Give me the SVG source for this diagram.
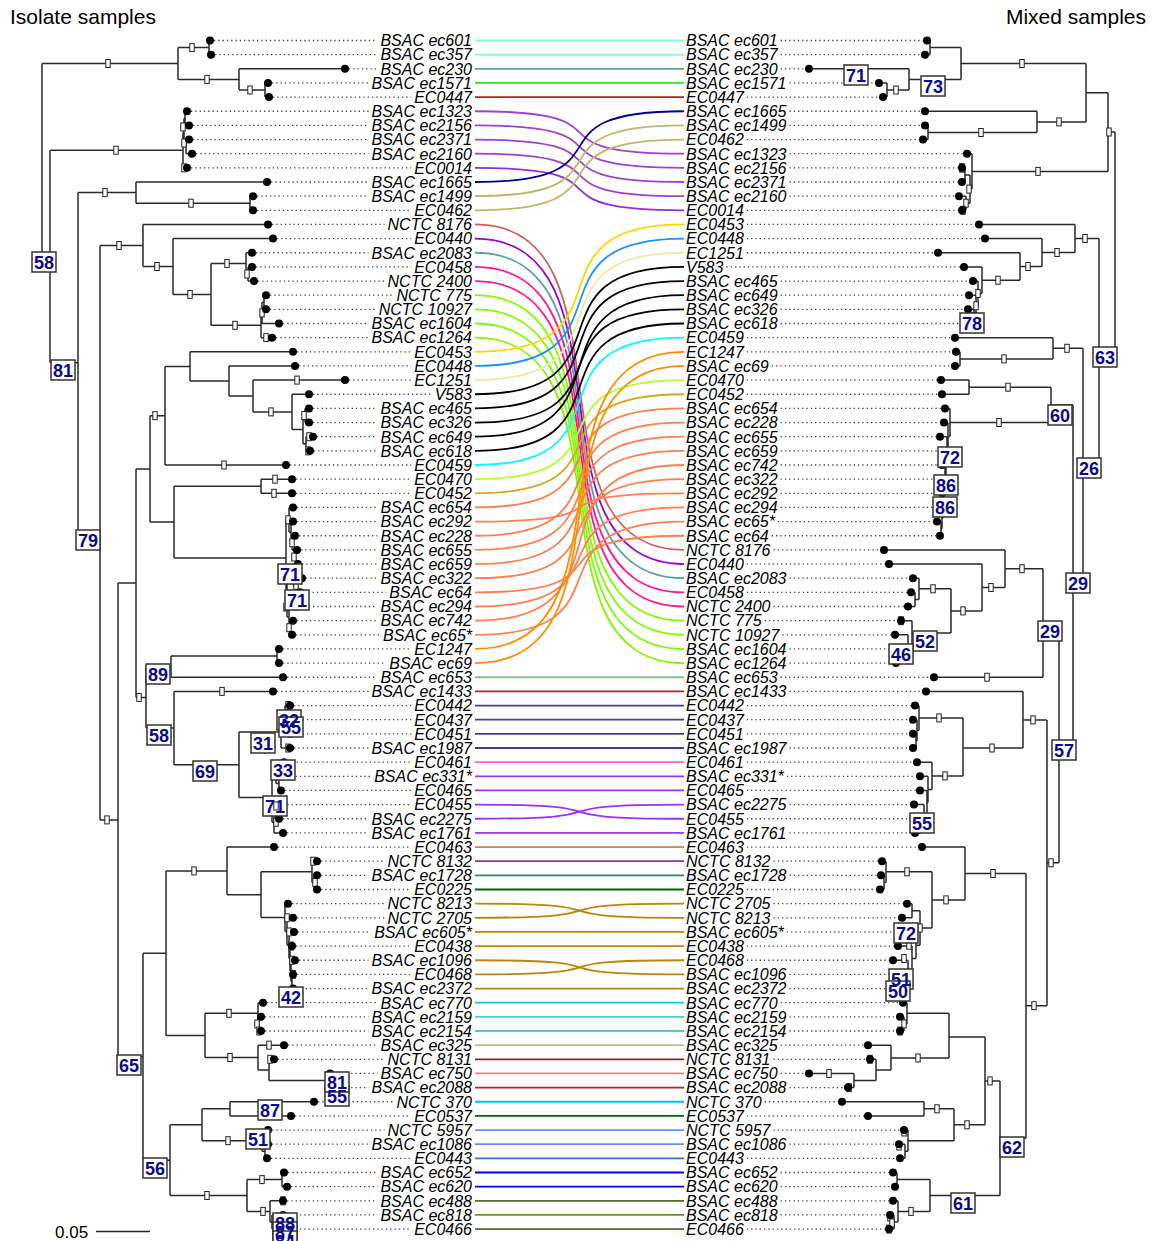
<svg xmlns="http://www.w3.org/2000/svg" xmlns:xlink="http://www.w3.org/1999/xlink" width="1154" height="1241" viewBox="0 0 1154 1241">
<style>
.ttl{font-family:"Liberation Sans",Arial,sans-serif;font-size:21px;fill:#000}
.tl,.tr{font-family:"Liberation Sans",Arial,sans-serif;font-size:16px;font-style:italic;fill:#000}
.tl{text-anchor:end}
.br{fill:none;stroke:#2a2a2a;stroke-width:1.5}
.dt{fill:none;stroke:#444;stroke-width:1.3;stroke-dasharray:1.3 3}
.bx rect{fill:#fff;stroke:#333;stroke-width:1.5}
.bt text{font-family:"Liberation Sans",Arial,sans-serif;font-weight:bold;font-size:18px;fill:#0a0a8c;text-anchor:middle}
.cn path{fill:none;stroke-width:1.8}
</style>
<defs>
<rect id="nm" x="-2.2" y="-4" width="4.4" height="8" fill="#fff" stroke="#222" stroke-width="1"/>
</defs>
<rect width="1154" height="1241" fill="#fff"/>
<text class="ttl" x="10" y="24">Isolate samples</text>
<text class="ttl" x="1146" y="24" text-anchor="end">Mixed samples</text>

<g id="connectors" class="cn">
<path stroke="#7fffd4" d="M475 40.5H684"/>
<path stroke="#7fffd4" d="M475 54.65H684"/>
<path stroke="#5f9ea0" d="M475 68.8H684"/>
<path stroke="#32e032" d="M475 82.95H684"/>
<path stroke="#b22222" d="M475 97.1H684"/>
<path stroke="#a040d0" d="M475 111.25C640 111.25 519 153.7 684 153.7"/>
<path stroke="#a040d0" d="M475 125.4C640 125.4 519 167.85 684 167.85"/>
<path stroke="#a040d0" d="M475 139.55C640 139.55 519 182 684 182"/>
<path stroke="#a040d0" d="M475 153.7C640 153.7 519 196.15 684 196.15"/>
<path stroke="#9030d8" d="M475 167.85C640 167.85 519 210.3 684 210.3"/>
<path stroke="#00008b" d="M475 182C640 182 519 111.25 684 111.25"/>
<path stroke="#bdb76b" d="M475 196.15C640 196.15 519 125.4 684 125.4"/>
<path stroke="#bdb76b" d="M475 210.3C640 210.3 519 139.55 684 139.55"/>
<path stroke="#cd5c5c" d="M475 224.45C640 224.45 519 549.9 684 549.9"/>
<path stroke="#9400d3" d="M475 238.6C640 238.6 519 564.05 684 564.05"/>
<path stroke="#5f9ea0" d="M475 252.75C640 252.75 519 578.2 684 578.2"/>
<path stroke="#ff1493" d="M475 266.9C640 266.9 519 592.35 684 592.35"/>
<path stroke="#ff1493" d="M475 281.05C640 281.05 519 606.5 684 606.5"/>
<path stroke="#7cfc00" d="M475 295.2C640 295.2 519 620.65 684 620.65"/>
<path stroke="#7cfc00" d="M475 309.35C640 309.35 519 634.8 684 634.8"/>
<path stroke="#7cfc00" d="M475 323.5C640 323.5 519 648.95 684 648.95"/>
<path stroke="#8ef000" d="M475 337.65C640 337.65 519 663.1 684 663.1"/>
<path stroke="#ffd700" d="M475 351.8C640 351.8 519 224.45 684 224.45"/>
<path stroke="#1e90ff" d="M475 365.95C640 365.95 519 238.6 684 238.6"/>
<path stroke="#eee8aa" d="M475 380.1C640 380.1 519 252.75 684 252.75"/>
<path stroke="#000" d="M475 394.25C640 394.25 519 266.9 684 266.9"/>
<path stroke="#000" d="M475 408.4C640 408.4 519 281.05 684 281.05"/>
<path stroke="#000" d="M475 422.55C640 422.55 519 309.35 684 309.35"/>
<path stroke="#000" d="M475 436.7C640 436.7 519 295.2 684 295.2"/>
<path stroke="#000" d="M475 450.85C640 450.85 519 323.5 684 323.5"/>
<path stroke="#00ffff" d="M475 465C640 465 519 337.65 684 337.65"/>
<path stroke="#adff2f" d="M475 479.15C640 479.15 519 380.1 684 380.1"/>
<path stroke="#daa520" d="M475 493.3C640 493.3 519 394.25 684 394.25"/>
<path stroke="#ff7f50" d="M475 507.45C640 507.45 519 408.4 684 408.4"/>
<path stroke="#ff7f50" d="M475 521.6C640 521.6 519 493.3 684 493.3"/>
<path stroke="#ff7f50" d="M475 535.75C640 535.75 519 422.55 684 422.55"/>
<path stroke="#ff7f50" d="M475 549.9C640 549.9 519 436.7 684 436.7"/>
<path stroke="#ff7f50" d="M475 564.05C640 564.05 519 450.85 684 450.85"/>
<path stroke="#ff7f50" d="M475 578.2C640 578.2 519 479.15 684 479.15"/>
<path stroke="#ff7f50" d="M475 592.35C640 592.35 519 535.75 684 535.75"/>
<path stroke="#ff7f50" d="M475 606.5C640 606.5 519 507.45 684 507.45"/>
<path stroke="#ff7f50" d="M475 620.65C640 620.65 519 465 684 465"/>
<path stroke="#ff7f50" d="M475 634.8C640 634.8 519 521.6 684 521.6"/>
<path stroke="#ff8c00" d="M475 648.95C640 648.95 519 351.8 684 351.8"/>
<path stroke="#ff8c00" d="M475 663.1C640 663.1 519 365.95 684 365.95"/>
<path stroke="#8fbc8f" d="M475 677.25H684"/>
<path stroke="#a52a2a" d="M475 691.4H684"/>
<path stroke="#483d8b" d="M475 705.55H684"/>
<path stroke="#483d8b" d="M475 719.7H684"/>
<path stroke="#483d8b" d="M475 733.85H684"/>
<path stroke="#483d8b" d="M475 748H684"/>
<path stroke="#ff69b4" d="M475 762.15H684"/>
<path stroke="#9b30ff" d="M475 776.3H684"/>
<path stroke="#9b30ff" d="M475 790.45H684"/>
<path stroke="#9b30ff" d="M475 804.6C640 804.6 519 818.75 684 818.75"/>
<path stroke="#9b30ff" d="M475 818.75C640 818.75 519 804.6 684 804.6"/>
<path stroke="#9b30ff" d="M475 832.9H684"/>
<path stroke="#cd853f" d="M475 847.05H684"/>
<path stroke="#8b3a8b" d="M475 861.2H684"/>
<path stroke="#2e8b57" d="M475 875.35H684"/>
<path stroke="#006400" d="M475 889.5H684"/>
<path stroke="#b8860b" d="M475 903.65C640 903.65 519 917.8 684 917.8"/>
<path stroke="#b8860b" d="M475 917.8C640 917.8 519 903.65 684 903.65"/>
<path stroke="#b8860b" d="M475 931.95H684"/>
<path stroke="#b8860b" d="M475 946.1H684"/>
<path stroke="#b8860b" d="M475 960.25C640 960.25 519 974.4 684 974.4"/>
<path stroke="#b8860b" d="M475 974.4C640 974.4 519 960.25 684 960.25"/>
<path stroke="#b8860b" d="M475 988.55H684"/>
<path stroke="#00ced1" d="M475 1002.7H684"/>
<path stroke="#48d1cc" d="M475 1016.85H684"/>
<path stroke="#48d1cc" d="M475 1031H684"/>
<path stroke="#d2b48c" d="M475 1045.15H684"/>
<path stroke="#8b2323" d="M475 1059.3H684"/>
<path stroke="#f08080" d="M475 1073.45H684"/>
<path stroke="#b22222" d="M475 1087.6H684"/>
<path stroke="#00bfff" d="M475 1101.75H684"/>
<path stroke="#006400" d="M475 1115.9H684"/>
<path stroke="#6495ed" d="M475 1130.05H684"/>
<path stroke="#6495ed" d="M475 1144.2H684"/>
<path stroke="#4169e1" d="M475 1158.35H684"/>
<path stroke="#0000ee" d="M475 1172.5H684"/>
<path stroke="#0000ee" d="M475 1186.65H684"/>
<path stroke="#556b2f" d="M475 1200.8H684"/>
<path stroke="#6b8e23" d="M475 1214.95H684"/>
<path stroke="#556b2f" d="M475 1229.1H684"/>
</g>

<g id="left-tree">
<path class="br" d="M42 63.5V256.4M42 63.5H178M42 256.4H50M178 47.6V79.4M178 47.6H209M178 79.4H239M209 40.5V54.65M209 40.5H210M209 54.65H211M239 68.8V90M239 68.8H345M239 90H265M265 82.95V97.1M265 82.95H268M265 97.1H269M50 150.2V362.7M50 150.2H183M50 362.7H78M183 132.5V167.85M183 132.5H184M183 167.85H187M184 118.3V146.6M184 118.3H185M184 146.6H186M185 111.25V125.4M185 111.25H187M185 125.4H189M186 139.55V153.7M186 139.55H189M186 153.7H192M78 192.6V532.7M78 192.6H136M78 532.7H100M136 182V203.2M136 182H267M136 203.2H250M250 196.15V210.3M250 196.15H253M250 210.3H253M100 245.5V819.9M100 245.5H143M100 819.9H118M143 224.45V266.5M143 224.45H268M143 266.5H173M173 238.6V294.4M173 238.6H273M173 294.4H211M211 263.4V325.3M211 263.4H246M211 325.3H261M246 252.75V274M246 252.75H252M246 274H248M248 266.9V281.05M248 266.9H252M248 281.05H254M261 312.9V337.65M261 312.9H262M261 337.65H272M262 302.3V323.5M262 302.3H264M262 323.5H279M264 295.2V309.35M264 295.2H266M264 309.35H266M118 583.1V1056.7M118 583.1H136M118 1056.7H143M136 468.9V697.4M136 468.9H150M136 697.4H146M150 415.7V522M150 415.7H165M150 522H174M165 366.4V465M165 366.4H190M165 465H286M190 351.8V381M190 351.8H293M190 381H229M229 365.95V396M229 365.95H295M229 396H253M253 380.1V411.9M253 380.1H345M253 411.9H292M292 394.25V429.6M292 394.25H309M292 429.6H303M303 415.5V443.8M303 415.5H305M303 443.8H306M305 408.4V422.55M305 408.4H309M305 422.55H309M306 436.7V450.85M306 436.7H313M306 450.85H310M174 486.2V557.9M174 486.2H261M174 557.9H286M261 479.15V493.3M261 479.15H292M261 493.3H292M286 519.8V595.9M286 519.8H289M286 595.9H287M289 507.45V532.2M289 507.45H293M289 532.2H291M291 521.6V542.8M291 521.6H293M291 542.8H292M292 535.75V549.9M292 535.75H295M292 549.9H297M287 574.7V617.1M287 574.7H293M287 617.1H289M293 564.05V585.3M293 564.05H298M293 585.3H296M296 578.2V592.35M296 578.2H302M296 592.35H300M289 606.5V627.7M289 606.5H296M289 627.7H290M290 620.65V634.8M290 620.65H293M290 634.8H292M146 666.6V728.1M146 666.6H171M146 728.1H174M171 656V677.25M171 656H277M171 677.25H283M277 648.95V663.1M277 648.95H279M277 663.1H279M174 691.4V764.8M174 691.4H273M174 764.8H239M239 732.1V797.5M239 732.1H281M239 797.5H272M281 716.2V748M281 716.2H285M281 748H290M285 705.55V726.8M285 705.55H290M285 726.8H287M287 719.7V733.85M287 719.7H290M287 733.85H290M272 772.8V822.3M272 772.8H276M272 822.3H274M276 762.15V783.4M276 762.15H284M276 783.4H279M279 776.3V790.45M279 776.3H283M279 790.45H281M274 811.7V832.9M274 811.7H276M274 832.9H283M276 804.6V818.75M276 804.6H279M276 818.75H279M143 953.2V1160.2M143 953.2H166M143 1160.2H170M166 870.9V1035.4M166 870.9H227M166 1035.4H205M227 847.05V894.7M227 847.05H274M227 894.7H261M261 871.8V917.6M261 871.8H312M261 917.6H285M312 861.2V882.4M312 861.2H317M312 882.4H314M314 875.35V889.5M314 875.35H317M314 889.5H317M285 903.65V931.5M285 903.65H288M285 931.5H287M287 917.8V945.2M287 917.8H293M287 945.2H289M289 931.95V958.5M289 931.95H294M289 958.5H290M290 946.1V970.9M290 946.1H292M290 970.9H291M291 960.25V981.5M291 960.25H295M291 981.5H292M292 974.4V988.55M292 974.4H293M292 988.55H293M205 1013.3V1057.5M205 1013.3H258M205 1057.5H258M258 1002.7V1023.9M258 1002.7H263M258 1023.9H259M259 1016.85V1031M259 1016.85H261M259 1031H261M258 1045.15V1069.9M258 1045.15H284M258 1069.9H269M269 1059.3V1080.5M269 1059.3H274M269 1080.5H327M327 1073.45V1087.6M327 1073.45H330M327 1087.6H330M170 1124.8V1195.5M170 1124.8H202M170 1195.5H247M202 1108.8V1140.7M202 1108.8H230M202 1140.7H262M230 1101.75V1115.9M230 1101.75H314M230 1115.9H291M262 1130.05V1151.3M262 1130.05H268M262 1151.3H265M265 1144.2V1158.35M265 1144.2H268M265 1158.35H267M247 1179.6V1211.4M247 1179.6H282M247 1211.4H270M282 1172.5V1186.65M282 1172.5H284M282 1186.65H287M270 1200.8V1222M270 1200.8H283M270 1222H272M272 1214.95V1229.1M272 1214.95H283M272 1229.1H283"/>
<g id="left-node-marks">
<use href="#nm" x="108" y="63.5"/><use href="#nm" x="192" y="47.6"/><use href="#nm" x="207" y="79.4"/><use href="#nm" x="250" y="90"/><use href="#nm" x="116" y="150.2"/><use href="#nm" x="183" y="127"/><use href="#nm" x="184" y="143"/><use href="#nm" x="184" y="167.85"/><use href="#nm" x="105" y="192.6"/><use href="#nm" x="191" y="203.2"/><use href="#nm" x="119" y="245.5"/><use href="#nm" x="157" y="266.5"/><use href="#nm" x="190" y="294.4"/><use href="#nm" x="227" y="263.4"/><use href="#nm" x="247" y="274"/><use href="#nm" x="235" y="325.3"/><use href="#nm" x="262" y="312.9"/><use href="#nm" x="266" y="337.65"/><use href="#nm" x="155" y="415.7"/><use href="#nm" x="297" y="380.1"/><use href="#nm" x="271" y="411.9"/><use href="#nm" x="304" y="415.5"/><use href="#nm" x="309" y="436.7"/><use href="#nm" x="308" y="450.85"/><use href="#nm" x="224" y="465"/><use href="#nm" x="275" y="479.15"/><use href="#nm" x="274" y="493.3"/><use href="#nm" x="288" y="519.8"/><use href="#nm" x="292" y="542.8"/><use href="#nm" x="294" y="557"/><use href="#nm" x="296" y="585.3"/><use href="#nm" x="286" y="607"/><use href="#nm" x="289" y="627.7"/><use href="#nm" x="139" y="697.4"/><use href="#nm" x="222" y="691.4"/><use href="#nm" x="288" y="705.55"/><use href="#nm" x="288" y="748"/><use href="#nm" x="276" y="822.3"/><use href="#nm" x="107" y="819.9"/><use href="#nm" x="194" y="870.9"/><use href="#nm" x="313" y="861.2"/><use href="#nm" x="315" y="882.4"/><use href="#nm" x="287" y="917.8"/><use href="#nm" x="289" y="931.95"/><use href="#nm" x="291" y="946.1"/><use href="#nm" x="292" y="960.25"/><use href="#nm" x="293" y="974.4"/><use href="#nm" x="229" y="1013.3"/><use href="#nm" x="257" y="1024"/><use href="#nm" x="259" y="1031"/><use href="#nm" x="230" y="1057.5"/><use href="#nm" x="269" y="1045.15"/><use href="#nm" x="270" y="1059.3"/><use href="#nm" x="228" y="1140.7"/><use href="#nm" x="207" y="1195.5"/><use href="#nm" x="262" y="1179.6"/><use href="#nm" x="263" y="1211.4"/><use href="#nm" x="283" y="1200.8"/>
</g>
</g>

<g id="right-tree">
<path class="br" d="M1115 132V349.9M1115 132H1108M1115 349.9H1099M1108 92.7V171.4M1108 92.7H1086M1108 171.4H972M1086 63.5V121.9M1086 63.5H961M1086 121.9H1037M961 47.6V79.4M961 47.6H930M961 79.4H909M930 40.5V54.65M930 40.5H927M930 54.65H925M909 68.8V90M909 68.8H809M909 90H887M887 82.95V97.1M887 82.95H879M887 97.1H883M1037 111.25V132.5M1037 111.25H925M1037 132.5H928M928 125.4V139.55M928 125.4H925M928 139.55H923M972 153.7V189.1M972 153.7H967M972 189.1H970M970 174.9V203.2M970 174.9H965M970 203.2H966M965 167.85V182M965 167.85H962M965 182H962M966 196.15V210.3M966 196.15H959M966 210.3H962M1099 238.5V461.2M1099 238.5H1075M1099 461.2H1083M1075 224.45V252.5M1075 224.45H979M1075 252.5H1042M1042 238.6V266.5M1042 238.6H985M1042 266.5H1020M1020 252.75V280.2M1020 252.75H938M1020 280.2H982M982 266.9V293.4M982 266.9H964M982 293.4H978M978 281.05V305.8M978 281.05H973M978 305.8H976M976 295.2V316.4M976 295.2H969M976 316.4H974M974 309.35V323.5M974 309.35H968M974 323.5H968M1083 348.3V574M1083 348.3H1053M1083 574H1073M1053 337.65V358.9M1053 337.65H955M1053 358.9H960M960 351.8V365.95M960 351.8H956M960 365.95H955M1073 404.9V743.1M1073 404.9H1051M1073 743.1H1059M1051 387.2V422.5M1051 387.2H969M1051 422.5H950M969 380.1V394.25M969 380.1H941M969 394.25H942M950 408.4V436.6M950 408.4H945M950 436.6H948M948 422.55V450.7M948 422.55H944M948 450.7H947M947 436.7V464.8M947 436.7H940M947 464.8H946M946 450.85V478.7M946 450.85H942M946 478.7H945M945 465V492.4M945 465H942M945 492.4H944M944 479.15V505.7M944 479.15H942M944 505.7H943M943 493.3V518.1M943 493.3H942M943 518.1H942M942 507.45V528.7M942 507.45H940M942 528.7H941M941 521.6V535.75M941 521.6H937M941 535.75H940M1059 623.3V862.8M1059 623.3H1043M1059 862.8H1047M1043 568.7V677.25M1043 568.7H1005M1043 677.25H934M1005 549.9V587.5M1005 549.9H884M1005 587.5H982M982 564.05V610.9M982 564.05H889M982 610.9H951M951 588.8V633M951 588.8H919M951 633H912M919 578.2V599.4M919 578.2H913M919 599.4H915M915 592.35V606.5M915 592.35H911M915 606.5H908M912 620.65V645.4M912 620.65H901M912 645.4H908M908 634.8V656M908 634.8H895M908 656H903M903 648.95V663.1M903 648.95H897M903 663.1H896M1047 719.9V1005.7M1047 719.9H1023M1047 1005.7H1026M1023 691.4V748M1023 691.4H926M1023 748H963M963 717.9V775.9M963 717.9H919M963 775.9H932M919 705.55V730.3M919 705.55H915M919 730.3H917M917 719.7V740.9M917 719.7H913M917 740.9H916M916 733.85V748M916 733.85H913M916 748H913M932 762.15V789.6M932 762.15H917M932 789.6H928M928 776.3V802.8M928 776.3H920M928 802.8H927M927 790.45V815.2M927 790.45H920M927 815.2H924M924 804.6V825.8M924 804.6H914M924 825.8H921M921 818.75V832.9M921 818.75H915M921 832.9H915M1026 873.5V1138.2M1026 873.5H965M1026 1138.2H1000M965 847.05V899.9M965 847.05H922M965 899.9H932M932 871.8V928M932 871.8H886M932 928H920M886 861.2V882.4M886 861.2H882M886 882.4H884M884 875.35V889.5M884 875.35H881M884 889.5H880M920 910.7V945.2M920 910.7H912M920 945.2H916M912 903.65V917.8M912 903.65H907M912 917.8H902M916 931.95V958.5M916 931.95H900M916 958.5H912M912 946.1V970.9M912 946.1H898M912 970.9H908M908 960.25V981.5M908 960.25H893M908 981.5H904M904 974.4V988.55M904 974.4H893M904 988.55H893M1000 1080.9V1195.5M1000 1080.9H985M1000 1195.5H930M985 1037V1124.8M985 1037H949M985 1124.8H954M949 1013.3V1058M949 1013.3H907M949 1058H891M907 1002.7V1023.9M907 1002.7H903M907 1023.9H904M904 1016.85V1031M904 1016.85H900M904 1031H900M891 1045.15V1069.9M891 1045.15H868M891 1069.9H876M876 1059.3V1080.5M876 1059.3H870M876 1080.5H854M854 1073.45V1087.6M854 1073.45H809M854 1087.6H848M954 1108.8V1140.7M954 1108.8H924M954 1140.7H908M924 1101.75V1115.9M924 1101.75H842M924 1115.9H868M908 1130.05V1151.3M908 1130.05H904M908 1151.3H905M905 1144.2V1158.35M905 1144.2H899M905 1158.35H900M930 1179.6V1211.4M930 1179.6H897M930 1211.4H898M897 1172.5V1186.65M897 1172.5H893M897 1186.65H895M898 1200.8V1222M898 1200.8H893M898 1222H894M894 1214.95V1229.1M894 1214.95H890M894 1229.1H889"/>
<g id="right-node-marks">
<use href="#nm" x="1022" y="63.5"/><use href="#nm" x="896" y="90"/><use href="#nm" x="1059" y="121.9"/><use href="#nm" x="981" y="132.5"/><use href="#nm" x="1038" y="171.4"/><use href="#nm" x="1109" y="132"/><use href="#nm" x="962" y="167.85"/><use href="#nm" x="969" y="189.1"/><use href="#nm" x="966" y="203.2"/><use href="#nm" x="963" y="210.3"/><use href="#nm" x="1085" y="238.5"/><use href="#nm" x="1057" y="252.5"/><use href="#nm" x="1028" y="266.5"/><use href="#nm" x="998" y="280.2"/><use href="#nm" x="978" y="293.4"/><use href="#nm" x="976" y="305.8"/><use href="#nm" x="974" y="316.4"/><use href="#nm" x="1067" y="348.3"/><use href="#nm" x="1004" y="358.9"/><use href="#nm" x="1008" y="387.2"/><use href="#nm" x="999" y="422.5"/><use href="#nm" x="1022" y="568.7"/><use href="#nm" x="991" y="587.5"/><use href="#nm" x="963" y="610.9"/><use href="#nm" x="933" y="588.8"/><use href="#nm" x="901" y="620.65"/><use href="#nm" x="987" y="677.25"/><use href="#nm" x="1033" y="719.9"/><use href="#nm" x="992" y="748"/><use href="#nm" x="939" y="717.9"/><use href="#nm" x="945" y="775.9"/><use href="#nm" x="1051" y="862.8"/><use href="#nm" x="1034" y="1005.7"/><use href="#nm" x="993" y="873.5"/><use href="#nm" x="946" y="899.9"/><use href="#nm" x="907" y="871.8"/><use href="#nm" x="920" y="928"/><use href="#nm" x="909" y="945.2"/><use href="#nm" x="904" y="958.5"/><use href="#nm" x="990" y="1080.9"/><use href="#nm" x="918" y="1058"/><use href="#nm" x="870" y="1059.3"/><use href="#nm" x="937" y="1108.8"/><use href="#nm" x="967" y="1124.8"/><use href="#nm" x="829" y="1073.45"/><use href="#nm" x="849" y="1087.6"/><use href="#nm" x="911" y="1211.4"/><use href="#nm" x="904" y="1023.9"/><use href="#nm" x="900" y="1031"/><use href="#nm" x="904" y="1132"/><use href="#nm" x="899" y="1146"/><use href="#nm" x="890" y="1217"/><use href="#nm" x="889" y="1229.1"/><use href="#nm" x="892" y="1223"/><use href="#nm" x="962" y="168"/>
</g>
</g>

<g id="left-leaves">
<g id="L01"><path class="dt" d="M214 40.5H377.4"/><circle cx="210" cy="40.5" r="4"/><text class="tl" x="472" y="46.3">BSAC ec601</text></g>
<g id="L02"><path class="dt" d="M215 54.65H377.4"/><circle cx="211" cy="54.65" r="4"/><text class="tl" x="472" y="60.45">BSAC ec357</text></g>
<g id="L03"><path class="dt" d="M349 68.8H377.4"/><circle cx="345" cy="68.8" r="4"/><text class="tl" x="472" y="74.6">BSAC ec230</text></g>
<g id="L04"><path class="dt" d="M272 82.95H368.5"/><circle cx="268" cy="82.95" r="4"/><text class="tl" x="472" y="88.75">BSAC ec1571</text></g>
<g id="L05"><path class="dt" d="M273 97.1H411.2"/><circle cx="269" cy="97.1" r="4"/><text class="tl" x="472" y="102.9">EC0447</text></g>
<g id="L06"><path class="dt" d="M191 111.25H368.5"/><circle cx="187" cy="111.25" r="4"/><text class="tl" x="472" y="117.05">BSAC ec1323</text></g>
<g id="L07"><path class="dt" d="M193 125.4H368.5"/><circle cx="189" cy="125.4" r="4"/><text class="tl" x="472" y="131.2">BSAC ec2156</text></g>
<g id="L08"><path class="dt" d="M193 139.55H368.5"/><circle cx="189" cy="139.55" r="4"/><text class="tl" x="472" y="145.35">BSAC ec2371</text></g>
<g id="L09"><path class="dt" d="M196 153.7H368.5"/><circle cx="192" cy="153.7" r="4"/><text class="tl" x="472" y="159.5">BSAC ec2160</text></g>
<g id="L10"><path class="dt" d="M191 167.85H411.2"/><circle cx="187" cy="167.85" r="4"/><text class="tl" x="472" y="173.65">EC0014</text></g>
<g id="L11"><path class="dt" d="M271 182H368.5"/><circle cx="267" cy="182" r="4"/><text class="tl" x="472" y="187.8">BSAC ec1665</text></g>
<g id="L12"><path class="dt" d="M257 196.15H368.5"/><circle cx="253" cy="196.15" r="4"/><text class="tl" x="472" y="201.95">BSAC ec1499</text></g>
<g id="L13"><path class="dt" d="M257 210.3H411.2"/><circle cx="253" cy="210.3" r="4"/><text class="tl" x="472" y="216.1">EC0462</text></g>
<g id="L14"><path class="dt" d="M272 224.45H384.5"/><circle cx="268" cy="224.45" r="4"/><text class="tl" x="472" y="230.25">NCTC 8176</text></g>
<g id="L15"><path class="dt" d="M277 238.6H411.2"/><circle cx="273" cy="238.6" r="4"/><text class="tl" x="472" y="244.4">EC0440</text></g>
<g id="L16"><path class="dt" d="M256 252.75H368.5"/><circle cx="252" cy="252.75" r="4"/><text class="tl" x="472" y="258.55">BSAC ec2083</text></g>
<g id="L17"><path class="dt" d="M256 266.9H411.2"/><circle cx="252" cy="266.9" r="4"/><text class="tl" x="472" y="272.7">EC0458</text></g>
<g id="L18"><path class="dt" d="M258 281.05H384.5"/><circle cx="254" cy="281.05" r="4"/><text class="tl" x="472" y="286.85">NCTC 2400</text></g>
<g id="L19"><path class="dt" d="M270 295.2H393.4"/><circle cx="266" cy="295.2" r="4"/><text class="tl" x="472" y="301">NCTC 775</text></g>
<g id="L20"><path class="dt" d="M270 309.35H375.6"/><circle cx="266" cy="309.35" r="4"/><text class="tl" x="472" y="315.15">NCTC 10927</text></g>
<g id="L21"><path class="dt" d="M283 323.5H368.5"/><circle cx="279" cy="323.5" r="4"/><text class="tl" x="472" y="329.3">BSAC ec1604</text></g>
<g id="L22"><path class="dt" d="M276 337.65H368.5"/><circle cx="272" cy="337.65" r="4"/><text class="tl" x="472" y="343.45">BSAC ec1264</text></g>
<g id="L23"><path class="dt" d="M297 351.8H411.2"/><circle cx="293" cy="351.8" r="4"/><text class="tl" x="472" y="357.6">EC0453</text></g>
<g id="L24"><path class="dt" d="M299 365.95H411.2"/><circle cx="295" cy="365.95" r="4"/><text class="tl" x="472" y="371.75">EC0448</text></g>
<g id="L25"><path class="dt" d="M349 380.1H411.2"/><circle cx="345" cy="380.1" r="4"/><text class="tl" x="472" y="385.9">EC1251</text></g>
<g id="L26"><path class="dt" d="M313 394.25H431.6"/><circle cx="309" cy="394.25" r="4"/><text class="tl" x="472" y="400.05">V583</text></g>
<g id="L27"><path class="dt" d="M313 408.4H377.4"/><circle cx="309" cy="408.4" r="4"/><text class="tl" x="472" y="414.2">BSAC ec465</text></g>
<g id="L28"><path class="dt" d="M313 422.55H377.4"/><circle cx="309" cy="422.55" r="4"/><text class="tl" x="472" y="428.35">BSAC ec326</text></g>
<g id="L29"><path class="dt" d="M317 436.7H377.4"/><circle cx="313" cy="436.7" r="4"/><text class="tl" x="472" y="442.5">BSAC ec649</text></g>
<g id="L30"><path class="dt" d="M314 450.85H377.4"/><circle cx="310" cy="450.85" r="4"/><text class="tl" x="472" y="456.65">BSAC ec618</text></g>
<g id="L31"><path class="dt" d="M290 465H411.2"/><circle cx="286" cy="465" r="4"/><text class="tl" x="472" y="470.8">EC0459</text></g>
<g id="L32"><path class="dt" d="M296 479.15H411.2"/><circle cx="292" cy="479.15" r="4"/><text class="tl" x="472" y="484.95">EC0470</text></g>
<g id="L33"><path class="dt" d="M296 493.3H411.2"/><circle cx="292" cy="493.3" r="4"/><text class="tl" x="472" y="499.1">EC0452</text></g>
<g id="L34"><path class="dt" d="M297 507.45H377.4"/><circle cx="293" cy="507.45" r="4"/><text class="tl" x="472" y="513.25">BSAC ec654</text></g>
<g id="L35"><path class="dt" d="M297 521.6H377.4"/><circle cx="293" cy="521.6" r="4"/><text class="tl" x="472" y="527.4">BSAC ec292</text></g>
<g id="L36"><path class="dt" d="M299 535.75H377.4"/><circle cx="295" cy="535.75" r="4"/><text class="tl" x="472" y="541.55">BSAC ec228</text></g>
<g id="L37"><path class="dt" d="M301 549.9H377.4"/><circle cx="297" cy="549.9" r="4"/><text class="tl" x="472" y="555.7">BSAC ec655</text></g>
<g id="L38"><path class="dt" d="M302 564.05H377.4"/><circle cx="298" cy="564.05" r="4"/><text class="tl" x="472" y="569.85">BSAC ec659</text></g>
<g id="L39"><path class="dt" d="M306 578.2H377.4"/><circle cx="302" cy="578.2" r="4"/><text class="tl" x="472" y="584">BSAC ec322</text></g>
<g id="L40"><path class="dt" d="M304 592.35H386.3"/><circle cx="300" cy="592.35" r="4"/><text class="tl" x="472" y="598.15">BSAC ec64</text></g>
<g id="L41"><path class="dt" d="M300 606.5H377.4"/><circle cx="296" cy="606.5" r="4"/><text class="tl" x="472" y="612.3">BSAC ec294</text></g>
<g id="L42"><path class="dt" d="M297 620.65H377.4"/><circle cx="293" cy="620.65" r="4"/><text class="tl" x="472" y="626.45">BSAC ec742</text></g>
<g id="L43"><path class="dt" d="M296 634.8H380.1"/><circle cx="292" cy="634.8" r="4"/><text class="tl" x="472" y="640.6">BSAC ec65*</text></g>
<g id="L44"><path class="dt" d="M283 648.95H411.2"/><circle cx="279" cy="648.95" r="4"/><text class="tl" x="472" y="654.75">EC1247</text></g>
<g id="L45"><path class="dt" d="M283 663.1H386.3"/><circle cx="279" cy="663.1" r="4"/><text class="tl" x="472" y="668.9">BSAC ec69</text></g>
<g id="L46"><path class="dt" d="M287 677.25H377.4"/><circle cx="283" cy="677.25" r="4"/><text class="tl" x="472" y="683.05">BSAC ec653</text></g>
<g id="L47"><path class="dt" d="M277 691.4H368.5"/><circle cx="273" cy="691.4" r="4"/><text class="tl" x="472" y="697.2">BSAC ec1433</text></g>
<g id="L48"><path class="dt" d="M294 705.55H411.2"/><circle cx="290" cy="705.55" r="4"/><text class="tl" x="472" y="711.35">EC0442</text></g>
<g id="L49"><path class="dt" d="M294 719.7H411.2"/><circle cx="290" cy="719.7" r="4"/><text class="tl" x="472" y="725.5">EC0437</text></g>
<g id="L50"><path class="dt" d="M294 733.85H411.2"/><circle cx="290" cy="733.85" r="4"/><text class="tl" x="472" y="739.65">EC0451</text></g>
<g id="L51"><path class="dt" d="M294 748H368.5"/><circle cx="290" cy="748" r="4"/><text class="tl" x="472" y="753.8">BSAC ec1987</text></g>
<g id="L52"><path class="dt" d="M288 762.15H411.2"/><circle cx="284" cy="762.15" r="4"/><text class="tl" x="472" y="767.95">EC0461</text></g>
<g id="L53"><path class="dt" d="M287 776.3H371.2"/><circle cx="283" cy="776.3" r="4"/><text class="tl" x="472" y="782.1">BSAC ec331*</text></g>
<g id="L54"><path class="dt" d="M285 790.45H411.2"/><circle cx="281" cy="790.45" r="4"/><text class="tl" x="472" y="796.25">EC0465</text></g>
<g id="L55"><path class="dt" d="M283 804.6H411.2"/><circle cx="279" cy="804.6" r="4"/><text class="tl" x="472" y="810.4">EC0455</text></g>
<g id="L56"><path class="dt" d="M283 818.75H368.5"/><circle cx="279" cy="818.75" r="4"/><text class="tl" x="472" y="824.55">BSAC ec2275</text></g>
<g id="L57"><path class="dt" d="M287 832.9H368.5"/><circle cx="283" cy="832.9" r="4"/><text class="tl" x="472" y="838.7">BSAC ec1761</text></g>
<g id="L58"><path class="dt" d="M278 847.05H411.2"/><circle cx="274" cy="847.05" r="4"/><text class="tl" x="472" y="852.85">EC0463</text></g>
<g id="L59"><path class="dt" d="M321 861.2H384.5"/><circle cx="317" cy="861.2" r="4"/><text class="tl" x="472" y="867">NCTC 8132</text></g>
<g id="L60"><path class="dt" d="M321 875.35H368.5"/><circle cx="317" cy="875.35" r="4"/><text class="tl" x="472" y="881.15">BSAC ec1728</text></g>
<g id="L61"><path class="dt" d="M321 889.5H411.2"/><circle cx="317" cy="889.5" r="4"/><text class="tl" x="472" y="895.3">EC0225</text></g>
<g id="L62"><path class="dt" d="M292 903.65H384.5"/><circle cx="288" cy="903.65" r="4"/><text class="tl" x="472" y="909.45">NCTC 8213</text></g>
<g id="L63"><path class="dt" d="M297 917.8H384.5"/><circle cx="293" cy="917.8" r="4"/><text class="tl" x="472" y="923.6">NCTC 2705</text></g>
<g id="L64"><path class="dt" d="M298 931.95H371.2"/><circle cx="294" cy="931.95" r="4"/><text class="tl" x="472" y="937.75">BSAC ec605*</text></g>
<g id="L65"><path class="dt" d="M296 946.1H411.2"/><circle cx="292" cy="946.1" r="4"/><text class="tl" x="472" y="951.9">EC0438</text></g>
<g id="L66"><path class="dt" d="M299 960.25H368.5"/><circle cx="295" cy="960.25" r="4"/><text class="tl" x="472" y="966.05">BSAC ec1096</text></g>
<g id="L67"><path class="dt" d="M297 974.4H411.2"/><circle cx="293" cy="974.4" r="4"/><text class="tl" x="472" y="980.2">EC0468</text></g>
<g id="L68"><path class="dt" d="M297 988.55H368.5"/><circle cx="293" cy="988.55" r="4"/><text class="tl" x="472" y="994.35">BSAC ec2372</text></g>
<g id="L69"><path class="dt" d="M267 1002.7H377.4"/><circle cx="263" cy="1002.7" r="4"/><text class="tl" x="472" y="1008.5">BSAC ec770</text></g>
<g id="L70"><path class="dt" d="M265 1016.85H368.5"/><circle cx="261" cy="1016.85" r="4"/><text class="tl" x="472" y="1022.65">BSAC ec2159</text></g>
<g id="L71"><path class="dt" d="M265 1031H368.5"/><circle cx="261" cy="1031" r="4"/><text class="tl" x="472" y="1036.8">BSAC ec2154</text></g>
<g id="L72"><path class="dt" d="M288 1045.15H377.4"/><circle cx="284" cy="1045.15" r="4"/><text class="tl" x="472" y="1050.95">BSAC ec325</text></g>
<g id="L73"><path class="dt" d="M278 1059.3H384.5"/><circle cx="274" cy="1059.3" r="4"/><text class="tl" x="472" y="1065.1">NCTC 8131</text></g>
<g id="L74"><path class="dt" d="M334 1073.45H377.4"/><circle cx="330" cy="1073.45" r="4"/><text class="tl" x="472" y="1079.25">BSAC ec750</text></g>
<g id="L75"><path class="dt" d="M334 1087.6H368.5"/><circle cx="330" cy="1087.6" r="4"/><text class="tl" x="472" y="1093.4">BSAC ec2088</text></g>
<g id="L76"><path class="dt" d="M318 1101.75H393.4"/><circle cx="314" cy="1101.75" r="4"/><text class="tl" x="472" y="1107.55">NCTC 370</text></g>
<g id="L77"><path class="dt" d="M295 1115.9H411.2"/><circle cx="291" cy="1115.9" r="4"/><text class="tl" x="472" y="1121.7">EC0537</text></g>
<g id="L78"><path class="dt" d="M272 1130.05H384.5"/><circle cx="268" cy="1130.05" r="4"/><text class="tl" x="472" y="1135.85">NCTC 5957</text></g>
<g id="L79"><path class="dt" d="M272 1144.2H368.5"/><circle cx="268" cy="1144.2" r="4"/><text class="tl" x="472" y="1150">BSAC ec1086</text></g>
<g id="L80"><path class="dt" d="M271 1158.35H411.2"/><circle cx="267" cy="1158.35" r="4"/><text class="tl" x="472" y="1164.15">EC0443</text></g>
<g id="L81"><path class="dt" d="M288 1172.5H377.4"/><circle cx="284" cy="1172.5" r="4"/><text class="tl" x="472" y="1178.3">BSAC ec652</text></g>
<g id="L82"><path class="dt" d="M291 1186.65H377.4"/><circle cx="287" cy="1186.65" r="4"/><text class="tl" x="472" y="1192.45">BSAC ec620</text></g>
<g id="L83"><path class="dt" d="M287 1200.8H377.4"/><circle cx="283" cy="1200.8" r="4"/><text class="tl" x="472" y="1206.6">BSAC ec488</text></g>
<g id="L84"><path class="dt" d="M287 1214.95H377.4"/><circle cx="283" cy="1214.95" r="4"/><text class="tl" x="472" y="1220.75">BSAC ec818</text></g>
<g id="L85"><path class="dt" d="M287 1229.1H411.2"/><circle cx="283" cy="1229.1" r="4"/><text class="tl" x="472" y="1234.9">EC0466</text></g>
</g>

<g id="right-leaves">
<g id="R01"><path class="dt" d="M780.6 40.5H923"/><circle cx="927" cy="40.5" r="4"/><text class="tr" x="686" y="46.3">BSAC ec601</text></g>
<g id="R02"><path class="dt" d="M780.6 54.65H921"/><circle cx="925" cy="54.65" r="4"/><text class="tr" x="686" y="60.45">BSAC ec357</text></g>
<g id="R03"><path class="dt" d="M780.6 68.8H805"/><circle cx="809" cy="68.8" r="4"/><text class="tr" x="686" y="74.6">BSAC ec230</text></g>
<g id="R04"><path class="dt" d="M789.5 82.95H875"/><circle cx="879" cy="82.95" r="4"/><text class="tr" x="686" y="88.75">BSAC ec1571</text></g>
<g id="R05"><path class="dt" d="M746.8 97.1H879"/><circle cx="883" cy="97.1" r="4"/><text class="tr" x="686" y="102.9">EC0447</text></g>
<g id="R06"><path class="dt" d="M789.5 111.25H921"/><circle cx="925" cy="111.25" r="4"/><text class="tr" x="686" y="117.05">BSAC ec1665</text></g>
<g id="R07"><path class="dt" d="M789.5 125.4H921"/><circle cx="925" cy="125.4" r="4"/><text class="tr" x="686" y="131.2">BSAC ec1499</text></g>
<g id="R08"><path class="dt" d="M746.8 139.55H919"/><circle cx="923" cy="139.55" r="4"/><text class="tr" x="686" y="145.35">EC0462</text></g>
<g id="R09"><path class="dt" d="M789.5 153.7H963"/><circle cx="967" cy="153.7" r="4"/><text class="tr" x="686" y="159.5">BSAC ec1323</text></g>
<g id="R10"><path class="dt" d="M789.5 167.85H958"/><circle cx="962" cy="167.85" r="4"/><text class="tr" x="686" y="173.65">BSAC ec2156</text></g>
<g id="R11"><path class="dt" d="M789.5 182H958"/><circle cx="962" cy="182" r="4"/><text class="tr" x="686" y="187.8">BSAC ec2371</text></g>
<g id="R12"><path class="dt" d="M789.5 196.15H955"/><circle cx="959" cy="196.15" r="4"/><text class="tr" x="686" y="201.95">BSAC ec2160</text></g>
<g id="R13"><path class="dt" d="M746.8 210.3H958"/><circle cx="962" cy="210.3" r="4"/><text class="tr" x="686" y="216.1">EC0014</text></g>
<g id="R14"><path class="dt" d="M746.8 224.45H975"/><circle cx="979" cy="224.45" r="4"/><text class="tr" x="686" y="230.25">EC0453</text></g>
<g id="R15"><path class="dt" d="M746.8 238.6H981"/><circle cx="985" cy="238.6" r="4"/><text class="tr" x="686" y="244.4">EC0448</text></g>
<g id="R16"><path class="dt" d="M746.8 252.75H934"/><circle cx="938" cy="252.75" r="4"/><text class="tr" x="686" y="258.55">EC1251</text></g>
<g id="R17"><path class="dt" d="M726.4 266.9H960"/><circle cx="964" cy="266.9" r="4"/><text class="tr" x="686" y="272.7">V583</text></g>
<g id="R18"><path class="dt" d="M780.6 281.05H969"/><circle cx="973" cy="281.05" r="4"/><text class="tr" x="686" y="286.85">BSAC ec465</text></g>
<g id="R19"><path class="dt" d="M780.6 295.2H965"/><circle cx="969" cy="295.2" r="4"/><text class="tr" x="686" y="301">BSAC ec649</text></g>
<g id="R20"><path class="dt" d="M780.6 309.35H964"/><circle cx="968" cy="309.35" r="4"/><text class="tr" x="686" y="315.15">BSAC ec326</text></g>
<g id="R21"><path class="dt" d="M780.6 323.5H964"/><circle cx="968" cy="323.5" r="4"/><text class="tr" x="686" y="329.3">BSAC ec618</text></g>
<g id="R22"><path class="dt" d="M746.8 337.65H951"/><circle cx="955" cy="337.65" r="4"/><text class="tr" x="686" y="343.45">EC0459</text></g>
<g id="R23"><path class="dt" d="M746.8 351.8H952"/><circle cx="956" cy="351.8" r="4"/><text class="tr" x="686" y="357.6">EC1247</text></g>
<g id="R24"><path class="dt" d="M771.7 365.95H951"/><circle cx="955" cy="365.95" r="4"/><text class="tr" x="686" y="371.75">BSAC ec69</text></g>
<g id="R25"><path class="dt" d="M746.8 380.1H937"/><circle cx="941" cy="380.1" r="4"/><text class="tr" x="686" y="385.9">EC0470</text></g>
<g id="R26"><path class="dt" d="M746.8 394.25H938"/><circle cx="942" cy="394.25" r="4"/><text class="tr" x="686" y="400.05">EC0452</text></g>
<g id="R27"><path class="dt" d="M780.6 408.4H941"/><circle cx="945" cy="408.4" r="4"/><text class="tr" x="686" y="414.2">BSAC ec654</text></g>
<g id="R28"><path class="dt" d="M780.6 422.55H940"/><circle cx="944" cy="422.55" r="4"/><text class="tr" x="686" y="428.35">BSAC ec228</text></g>
<g id="R29"><path class="dt" d="M780.6 436.7H936"/><circle cx="940" cy="436.7" r="4"/><text class="tr" x="686" y="442.5">BSAC ec655</text></g>
<g id="R30"><path class="dt" d="M780.6 450.85H938"/><circle cx="942" cy="450.85" r="4"/><text class="tr" x="686" y="456.65">BSAC ec659</text></g>
<g id="R31"><path class="dt" d="M780.6 465H938"/><circle cx="942" cy="465" r="4"/><text class="tr" x="686" y="470.8">BSAC ec742</text></g>
<g id="R32"><path class="dt" d="M780.6 479.15H938"/><circle cx="942" cy="479.15" r="4"/><text class="tr" x="686" y="484.95">BSAC ec322</text></g>
<g id="R33"><path class="dt" d="M780.6 493.3H938"/><circle cx="942" cy="493.3" r="4"/><text class="tr" x="686" y="499.1">BSAC ec292</text></g>
<g id="R34"><path class="dt" d="M780.6 507.45H936"/><circle cx="940" cy="507.45" r="4"/><text class="tr" x="686" y="513.25">BSAC ec294</text></g>
<g id="R35"><path class="dt" d="M777.9 521.6H933"/><circle cx="937" cy="521.6" r="4"/><text class="tr" x="686" y="527.4">BSAC ec65*</text></g>
<g id="R36"><path class="dt" d="M771.7 535.75H936"/><circle cx="940" cy="535.75" r="4"/><text class="tr" x="686" y="541.55">BSAC ec64</text></g>
<g id="R37"><path class="dt" d="M773.5 549.9H880"/><circle cx="884" cy="549.9" r="4"/><text class="tr" x="686" y="555.7">NCTC 8176</text></g>
<g id="R38"><path class="dt" d="M746.8 564.05H885"/><circle cx="889" cy="564.05" r="4"/><text class="tr" x="686" y="569.85">EC0440</text></g>
<g id="R39"><path class="dt" d="M789.5 578.2H909"/><circle cx="913" cy="578.2" r="4"/><text class="tr" x="686" y="584">BSAC ec2083</text></g>
<g id="R40"><path class="dt" d="M746.8 592.35H907"/><circle cx="911" cy="592.35" r="4"/><text class="tr" x="686" y="598.15">EC0458</text></g>
<g id="R41"><path class="dt" d="M773.5 606.5H904"/><circle cx="908" cy="606.5" r="4"/><text class="tr" x="686" y="612.3">NCTC 2400</text></g>
<g id="R42"><path class="dt" d="M764.6 620.65H897"/><circle cx="901" cy="620.65" r="4"/><text class="tr" x="686" y="626.45">NCTC 775</text></g>
<g id="R43"><path class="dt" d="M782.4 634.8H891"/><circle cx="895" cy="634.8" r="4"/><text class="tr" x="686" y="640.6">NCTC 10927</text></g>
<g id="R44"><path class="dt" d="M789.5 648.95H893"/><circle cx="897" cy="648.95" r="4"/><text class="tr" x="686" y="654.75">BSAC ec1604</text></g>
<g id="R45"><path class="dt" d="M789.5 663.1H892"/><circle cx="896" cy="663.1" r="4"/><text class="tr" x="686" y="668.9">BSAC ec1264</text></g>
<g id="R46"><path class="dt" d="M780.6 677.25H930"/><circle cx="934" cy="677.25" r="4"/><text class="tr" x="686" y="683.05">BSAC ec653</text></g>
<g id="R47"><path class="dt" d="M789.5 691.4H922"/><circle cx="926" cy="691.4" r="4"/><text class="tr" x="686" y="697.2">BSAC ec1433</text></g>
<g id="R48"><path class="dt" d="M746.8 705.55H911"/><circle cx="915" cy="705.55" r="4"/><text class="tr" x="686" y="711.35">EC0442</text></g>
<g id="R49"><path class="dt" d="M746.8 719.7H909"/><circle cx="913" cy="719.7" r="4"/><text class="tr" x="686" y="725.5">EC0437</text></g>
<g id="R50"><path class="dt" d="M746.8 733.85H909"/><circle cx="913" cy="733.85" r="4"/><text class="tr" x="686" y="739.65">EC0451</text></g>
<g id="R51"><path class="dt" d="M789.5 748H909"/><circle cx="913" cy="748" r="4"/><text class="tr" x="686" y="753.8">BSAC ec1987</text></g>
<g id="R52"><path class="dt" d="M746.8 762.15H913"/><circle cx="917" cy="762.15" r="4"/><text class="tr" x="686" y="767.95">EC0461</text></g>
<g id="R53"><path class="dt" d="M786.8 776.3H916"/><circle cx="920" cy="776.3" r="4"/><text class="tr" x="686" y="782.1">BSAC ec331*</text></g>
<g id="R54"><path class="dt" d="M746.8 790.45H916"/><circle cx="920" cy="790.45" r="4"/><text class="tr" x="686" y="796.25">EC0465</text></g>
<g id="R55"><path class="dt" d="M789.5 804.6H910"/><circle cx="914" cy="804.6" r="4"/><text class="tr" x="686" y="810.4">BSAC ec2275</text></g>
<g id="R56"><path class="dt" d="M746.8 818.75H911"/><circle cx="915" cy="818.75" r="4"/><text class="tr" x="686" y="824.55">EC0455</text></g>
<g id="R57"><path class="dt" d="M789.5 832.9H911"/><circle cx="915" cy="832.9" r="4"/><text class="tr" x="686" y="838.7">BSAC ec1761</text></g>
<g id="R58"><path class="dt" d="M746.8 847.05H918"/><circle cx="922" cy="847.05" r="4"/><text class="tr" x="686" y="852.85">EC0463</text></g>
<g id="R59"><path class="dt" d="M773.5 861.2H878"/><circle cx="882" cy="861.2" r="4"/><text class="tr" x="686" y="867">NCTC 8132</text></g>
<g id="R60"><path class="dt" d="M789.5 875.35H877"/><circle cx="881" cy="875.35" r="4"/><text class="tr" x="686" y="881.15">BSAC ec1728</text></g>
<g id="R61"><path class="dt" d="M746.8 889.5H876"/><circle cx="880" cy="889.5" r="4"/><text class="tr" x="686" y="895.3">EC0225</text></g>
<g id="R62"><path class="dt" d="M773.5 903.65H903"/><circle cx="907" cy="903.65" r="4"/><text class="tr" x="686" y="909.45">NCTC 2705</text></g>
<g id="R63"><path class="dt" d="M773.5 917.8H898"/><circle cx="902" cy="917.8" r="4"/><text class="tr" x="686" y="923.6">NCTC 8213</text></g>
<g id="R64"><path class="dt" d="M786.8 931.95H896"/><circle cx="900" cy="931.95" r="4"/><text class="tr" x="686" y="937.75">BSAC ec605*</text></g>
<g id="R65"><path class="dt" d="M746.8 946.1H894"/><circle cx="898" cy="946.1" r="4"/><text class="tr" x="686" y="951.9">EC0438</text></g>
<g id="R66"><path class="dt" d="M746.8 960.25H889"/><circle cx="893" cy="960.25" r="4"/><text class="tr" x="686" y="966.05">EC0468</text></g>
<g id="R67"><path class="dt" d="M789.5 974.4H889"/><circle cx="893" cy="974.4" r="4"/><text class="tr" x="686" y="980.2">BSAC ec1096</text></g>
<g id="R68"><path class="dt" d="M789.5 988.55H889"/><circle cx="893" cy="988.55" r="4"/><text class="tr" x="686" y="994.35">BSAC ec2372</text></g>
<g id="R69"><path class="dt" d="M780.6 1002.7H899"/><circle cx="903" cy="1002.7" r="4"/><text class="tr" x="686" y="1008.5">BSAC ec770</text></g>
<g id="R70"><path class="dt" d="M789.5 1016.85H896"/><circle cx="900" cy="1016.85" r="4"/><text class="tr" x="686" y="1022.65">BSAC ec2159</text></g>
<g id="R71"><path class="dt" d="M789.5 1031H896"/><circle cx="900" cy="1031" r="4"/><text class="tr" x="686" y="1036.8">BSAC ec2154</text></g>
<g id="R72"><path class="dt" d="M780.6 1045.15H864"/><circle cx="868" cy="1045.15" r="4"/><text class="tr" x="686" y="1050.95">BSAC ec325</text></g>
<g id="R73"><path class="dt" d="M773.5 1059.3H866"/><circle cx="870" cy="1059.3" r="4"/><text class="tr" x="686" y="1065.1">NCTC 8131</text></g>
<g id="R74"><path class="dt" d="M780.6 1073.45H805"/><circle cx="809" cy="1073.45" r="4"/><text class="tr" x="686" y="1079.25">BSAC ec750</text></g>
<g id="R75"><path class="dt" d="M789.5 1087.6H844"/><circle cx="848" cy="1087.6" r="4"/><text class="tr" x="686" y="1093.4">BSAC ec2088</text></g>
<g id="R76"><path class="dt" d="M764.6 1101.75H838"/><circle cx="842" cy="1101.75" r="4"/><text class="tr" x="686" y="1107.55">NCTC 370</text></g>
<g id="R77"><path class="dt" d="M746.8 1115.9H864"/><circle cx="868" cy="1115.9" r="4"/><text class="tr" x="686" y="1121.7">EC0537</text></g>
<g id="R78"><path class="dt" d="M773.5 1130.05H900"/><circle cx="904" cy="1130.05" r="4"/><text class="tr" x="686" y="1135.85">NCTC 5957</text></g>
<g id="R79"><path class="dt" d="M789.5 1144.2H895"/><circle cx="899" cy="1144.2" r="4"/><text class="tr" x="686" y="1150">BSAC ec1086</text></g>
<g id="R80"><path class="dt" d="M746.8 1158.35H896"/><circle cx="900" cy="1158.35" r="4"/><text class="tr" x="686" y="1164.15">EC0443</text></g>
<g id="R81"><path class="dt" d="M780.6 1172.5H889"/><circle cx="893" cy="1172.5" r="4"/><text class="tr" x="686" y="1178.3">BSAC ec652</text></g>
<g id="R82"><path class="dt" d="M780.6 1186.65H891"/><circle cx="895" cy="1186.65" r="4"/><text class="tr" x="686" y="1192.45">BSAC ec620</text></g>
<g id="R83"><path class="dt" d="M780.6 1200.8H889"/><circle cx="893" cy="1200.8" r="4"/><text class="tr" x="686" y="1206.6">BSAC ec488</text></g>
<g id="R84"><path class="dt" d="M780.6 1214.95H886"/><circle cx="890" cy="1214.95" r="4"/><text class="tr" x="686" y="1220.75">BSAC ec818</text></g>
<g id="R85"><path class="dt" d="M746.8 1229.1H885"/><circle cx="889" cy="1229.1" r="4"/><text class="tr" x="686" y="1234.9">EC0466</text></g>
</g>

<g id="support-values">
<g class="bx">
<rect x="32" y="252" width="24" height="20"/><rect x="51" y="360" width="24" height="20"/><rect x="76" y="530" width="24" height="20"/><rect x="278" y="564" width="24" height="20"/><rect x="285" y="590" width="24" height="20"/><rect x="146" y="664" width="24" height="20"/><rect x="147" y="725" width="24" height="20"/><rect x="277" y="710" width="24" height="20"/><rect x="279" y="717" width="24" height="20"/><rect x="251" y="733" width="24" height="20"/><rect x="193" y="761" width="24" height="20"/><rect x="271" y="760" width="24" height="20"/><rect x="263" y="796" width="24" height="20"/><rect x="279" y="987" width="24" height="20"/><rect x="117" y="1055" width="24" height="20"/><rect x="325" y="1086" width="24" height="20"/><rect x="325" y="1072" width="24" height="20"/><rect x="258" y="1100" width="24" height="20"/><rect x="246" y="1129" width="24" height="20"/><rect x="143" y="1158" width="24" height="20"/><rect x="273" y="1213" width="24" height="20"/><rect x="273" y="1222" width="24" height="20"/><rect x="273" y="1231" width="24" height="20"/>
<rect x="844" y="65" width="24" height="20"/><rect x="921" y="76" width="24" height="20"/><rect x="960" y="313" width="24" height="20"/><rect x="1093" y="347" width="24" height="20"/><rect x="1048" y="405" width="24" height="20"/><rect x="1077" y="458" width="24" height="20"/><rect x="938" y="447" width="24" height="20"/><rect x="934" y="475" width="24" height="20"/><rect x="933" y="497" width="24" height="20"/><rect x="1066" y="573" width="24" height="20"/><rect x="1038" y="621" width="24" height="20"/><rect x="913" y="631" width="24" height="20"/><rect x="889" y="644" width="24" height="20"/><rect x="1052" y="740" width="24" height="20"/><rect x="910" y="813" width="24" height="20"/><rect x="894" y="923" width="24" height="20"/><rect x="889" y="969" width="24" height="20"/><rect x="886" y="981" width="24" height="20"/><rect x="1000" y="1137" width="24" height="20"/><rect x="951" y="1193" width="24" height="20"/>
</g>
<g class="bt">
<text x="44" y="268.5">58</text><text x="63" y="376.5">81</text><text x="88" y="546.5">79</text><text x="290" y="580.5">71</text><text x="297" y="606.5">71</text><text x="158" y="680.5">89</text><text x="159" y="741.5">58</text><text x="289" y="726.5">32</text><text x="291" y="733.5">55</text><text x="263" y="749.5">31</text><text x="205" y="777.5">69</text><text x="283" y="776.5">33</text><text x="275" y="812.5">71</text><text x="291" y="1003.5">42</text><text x="129" y="1071.5">65</text><text x="337" y="1102.5">55</text><text x="337" y="1088.5">81</text><text x="270" y="1116.5">87</text><text x="258" y="1145.5">51</text><text x="155" y="1174.5">56</text><text x="285" y="1229.5">88</text><text x="285" y="1238.5">87</text><text x="285" y="1247.5">84</text>
<text x="856" y="81.5">71</text><text x="933" y="92.5">73</text><text x="972" y="329.5">78</text><text x="1105" y="363.5">63</text><text x="1060" y="421.5">60</text><text x="1089" y="474.5">26</text><text x="950" y="463.5">72</text><text x="946" y="491.5">86</text><text x="945" y="513.5">86</text><text x="1078" y="589.5">29</text><text x="1050" y="637.5">29</text><text x="925" y="647.5">52</text><text x="901" y="660.5">46</text><text x="1064" y="756.5">57</text><text x="922" y="829.5">55</text><text x="906" y="939.5">72</text><text x="901" y="985.5">51</text><text x="898" y="997.5">50</text><text x="1012" y="1153.5">62</text><text x="963" y="1209.5">61</text>
</g>
<use href="#nm" x="276" y="806"/>
</g>

<g id="scale-bar">
<text x="55" y="1238" font-family="Liberation Sans, Arial, sans-serif" font-size="17">0.05</text>
<path d="M96 1231.5H150" stroke="#222" stroke-width="1.5"/>
</g>
</svg>
